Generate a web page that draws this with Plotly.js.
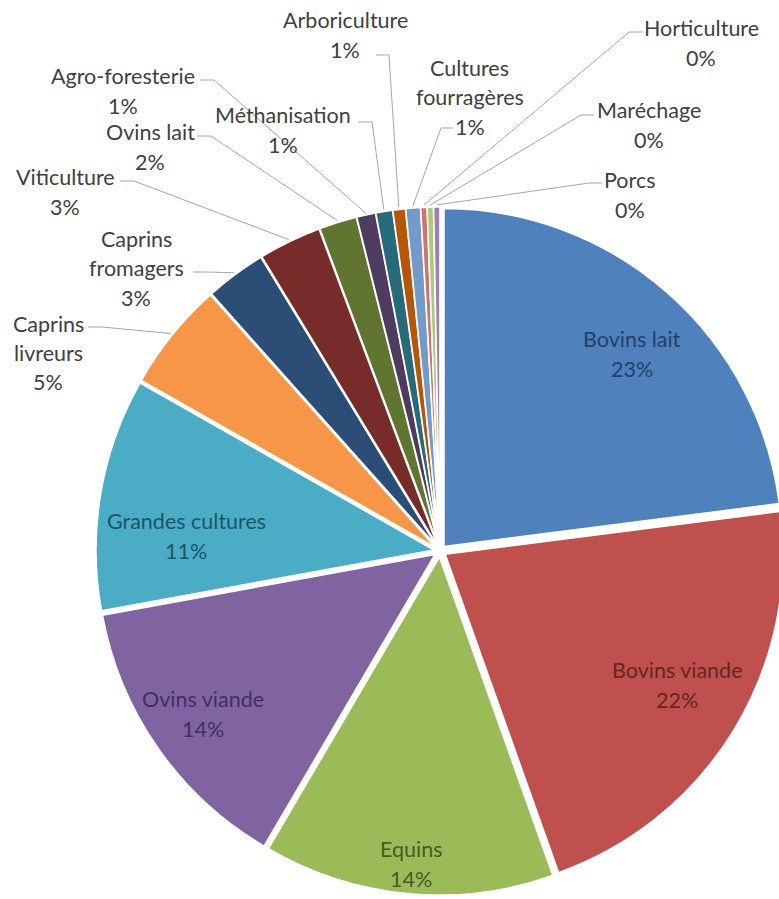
<!DOCTYPE html>
<html>
<head>
<meta charset="utf-8">
<script src="https://cdn.plot.ly/plotly-3.0.1.min.js"></script>
<style>
html,body{margin:0;padding:0;overflow:hidden;background:#fff;}
#chart{width:790px;height:899px;}
</style>
</head>
<body>
<div id="chart"></div>
<script>
// ---- data ----
const categories = ["Bovins lait","Bovins viande","Equins","Ovins viande","Grandes cultures",
  "Caprins livreurs","Caprins fromagers","Viticulture","Ovins lait","Agro-foresterie",
  "Méthanisation","Arboriculture","Cultures fourragères","Horticulture","Maréchage","Porcs"];
const shares = [23.0,21.6,13.9,13.7,11.1,5.2,2.9,3.0,1.8,0.9,0.8,0.6,0.7,0.3,0.3,0.3];
const labelLines = {
  "Caprins livreurs":["Caprins","livreurs"],
  "Caprins fromagers":["Caprins","fromagers"],
  "Cultures fourragères":["Cultures","fourragères"]
};

// ---- style / layout constants ----
const W = 790, H = 899;
const CX = 440, CY = 551, R = 338, PULL = 0.018;
const colors = ["#4F81BD","#C0504D","#9BBB59","#8064A2","#4BACC6","#F79646",
  "#2C4D75","#772C2A","#5F7530","#4D3B62","#276A7C","#B65708",
  "#729ACA","#CD7371","#AFC97A","#9983B5"];
const FONT = "Lato, 'Open Sans', sans-serif";
const FS = 21.5, LS = 29.5;
// inside labels: block centre (px)
const insideLabels = {
  "Bovins lait":{x:632,y:354,c:"#24406a"},
  "Bovins viande":{x:677,y:685,c:"#632624"},
  "Equins":{x:411,y:864,c:"#475c22"},
  "Ovins viande":{x:203,y:714,c:"#40305e"},
  "Grandes cultures":{x:186,y:536,c:"#1a5668"}
};
// outside labels: block centre, leader start, elbow
const outsideLabels = {
  "Porcs":{x:630,y:195,sx:602,sy:183,ex:589,ey:183},
  "Maréchage":{x:649,y:125,sx:594,sy:115,ex:581,ey:115},
  "Horticulture":{x:701,y:43,sx:643,sy:32,ex:629,ey:32},
  "Cultures fourragères":{x:470,y:97,sx:453,sy:128,ex:441,ey:128},
  "Arboriculture":{x:345,y:35,sx:376,sy:55,ex:389,ey:55},
  "Méthanisation":{x:283,y:130,sx:358,sy:122,ex:372,ey:122},
  "Agro-foresterie":{x:123,y:91,sx:200,sy:80,ex:214,ey:80},
  "Ovins lait":{x:150,y:147,sx:197,sy:136,ex:211,ey:136},
  "Viticulture":{x:65,y:192,sx:120,sy:181,ex:134,ey:181},
  "Caprins fromagers":{x:136,y:268,sx:193,sy:272,ex:207,ey:272},
  "Caprins livreurs":{x:48,y:353,sx:88,sy:327,ex:102,ey:327}
};

const px = x => x / W;
const py = y => 1 - y / H;

const total = shares.reduce((a,b)=>a+b,0);
const half = R * (1 + PULL);
const pullPx = R * PULL;

const annotations = [];
const shapes = [];
let cum = 0;
categories.forEach((name, i) => {
  const v = shares[i];
  const a0 = 90 - 360 * cum / total;
  const a1 = a0 - 360 * v / total;
  cum += v;
  const mid = (a0 + a1) / 2 * Math.PI / 180;
  const pct = Math.round(v / total * 100) + "%";
  const lines = (labelLines[name] || [name]).concat([pct]);
  let cfg, color;
  if (insideLabels[name]) { cfg = insideLabels[name]; color = cfg.c; }
  else { cfg = outsideLabels[name]; color = "#404040"; }
  const n = lines.length;
  lines.forEach((t, k) => {
    annotations.push({
      xref:"paper", yref:"paper",
      x: px(cfg.x), y: py(cfg.y + (k - (n - 1) / 2) * LS),
      text: t, showarrow:false, xanchor:"center", yanchor:"middle",
      font:{family:FONT, size:FS, color:color}
    });
  });
  if (outsideLabels[name]) {
    const rr = R + pullPx + 2;
    const tx = CX + rr * Math.cos(mid), ty = CY - rr * Math.sin(mid);
    shapes.push({
      type:"path", xref:"paper", yref:"paper",
      path:`M ${px(cfg.sx)} ${py(cfg.sy)} L ${px(cfg.ex)} ${py(cfg.ey)} L ${px(tx)} ${py(ty)}`,
      line:{color:"#a6a6a6", width:1}
    });
  }
});

const trace = {
  type:"pie",
  labels: categories,
  values: shares,
  sort:false,
  direction:"clockwise",
  rotation:0,
  pull: categories.map(()=>PULL),
  textinfo:"none",
  hoverinfo:"none",
  marker:{colors:colors, line:{color:"#ffffff", width:1.5}},
  domain:{x:[px(CX-half), px(CX+half)], y:[py(CY+half), py(CY-half)]},
  showlegend:false
};

Plotly.newPlot("chart", [trace], {
  width:W, height:H,
  margin:{l:0,r:0,t:0,b:0},
  paper_bgcolor:"#ffffff",
  showlegend:false,
  annotations:annotations,
  shapes:shapes
}, {staticPlot:true, displayModeBar:false});
</script>
</body>
</html>
